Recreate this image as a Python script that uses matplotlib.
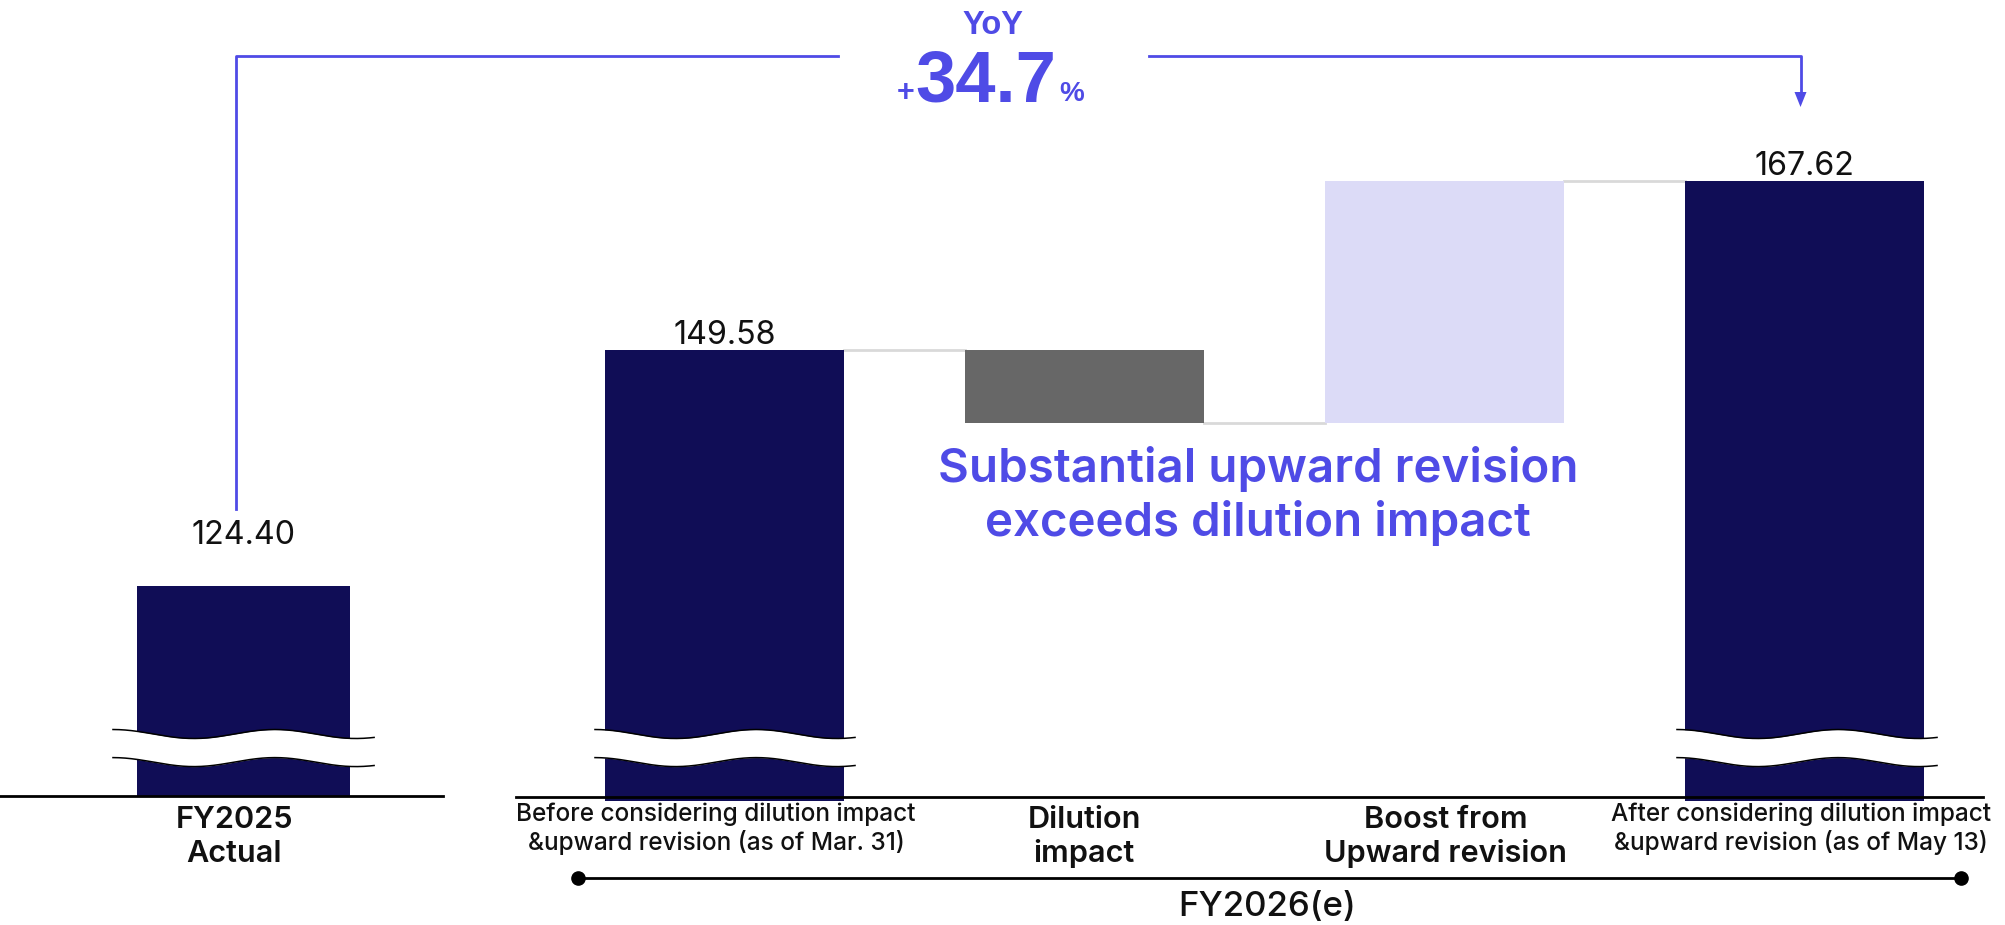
import matplotlib
matplotlib.use('Agg')
import matplotlib.pyplot as plt
import numpy as np
from matplotlib.transforms import Affine2D
from matplotlib.patches import Polygon

# ---------------- data ----------------
categories = ["FY2025\nActual",
              "Before considering dilution impact\n&upward revision (as of Mar. 31)",
              "Dilution\nimpact",
              "Boost from\nUpward revision",
              "After considering dilution impact\n&upward revision (as of May 13)"]
fy2025_actual = 124.40
fy2026_before = 149.58
dilution_impact = -7.80
upward_boost = 25.84
fy2026_after = 167.62
value_labels = ["124.40", "149.58", "167.62"]
yoy_title = "YoY"
yoy_value = "34.7"
group_label = "FY2026(e)"
annotation = "Substantial upward revision\nexceeds dilution impact"

# ---------------- style ----------------
NAVY = '#100D56'
GREY = '#676767'
LAV = '#DCDBF7'
BLUE = '#4F4BE6'
CONN = '#D9D9D9'
INK = '#111111'
FONT = ['Inter', 'DejaVu Sans']
NARROW = ['Liberation Sans Narrow', 'Liberation Sans', 'DejaVu Sans']
plt.rcParams['font.family'] = FONT

W, H, DPI = 2006, 925, 100
fig = plt.figure(figsize=(W / DPI, H / DPI), dpi=DPI)
ax = fig.add_axes([0, 0, 1, 1])
XMIN, XMAX = -1.0125, 4.5597
YMIN, YMAX = 88.2, 187.0
ax.set_xlim(XMIN, XMAX)
ax.set_ylim(YMIN, YMAX)
ax.axis('off')

P = Affine2D().scale(1, -1).translate(0, H)   # pixel coords, origin top-left
UNIT = W / (XMAX - XMIN)                        # pixels per x unit


def px(xd):
    return (xd - XMIN) * UNIT


base = 101.9          # broken-axis baseline value
x_pos = [-0.336, 1, 2, 3, 4]
w_first, w_rest = 0.592, 0.664
mid = fy2026_before + dilution_impact
drop = 0.45

# bars
ax.bar(x_pos[0], fy2025_actual - base, bottom=base, width=w_first, color=NAVY, zorder=2)
ax.bar(x_pos[1], fy2026_before - base + drop, bottom=base - drop, width=w_rest, color=NAVY, zorder=2)
ax.bar(x_pos[2], dilution_impact, bottom=fy2026_before, width=w_rest, color=GREY, zorder=2)
ax.bar(x_pos[3], upward_boost, bottom=mid, width=w_rest, color=LAV, zorder=2)
ax.bar(x_pos[4], fy2026_after - base + drop, bottom=base - drop, width=w_rest, color=NAVY, zorder=2)

# connectors
hw = w_rest / 2
ax.plot([x_pos[1] + hw, x_pos[2] - hw], [fy2026_before] * 2, color=CONN, lw=2, zorder=1)
ax.plot([x_pos[2] + hw, x_pos[3] - hw], [mid] * 2, color=CONN, lw=2, zorder=1)
ax.plot([x_pos[3] + hw, x_pos[4] - hw], [fy2026_after] * 2, color=CONN, lw=2, zorder=1)

# break marks
for xc, wd, ext_l, ext_r in [(x_pos[0], w_first, 24, 24),
                             (x_pos[1], w_rest, 10, 11),
                             (x_pos[4], w_rest, 8, 13)]:
    x0 = xc - wd / 2 - ext_l / UNIT
    x1 = xc + wd / 2 + ext_r / UNIT
    t = np.linspace(0, 1, 300)
    xs = x0 + (x1 - x0) * t
    wave = 0.48 * np.cos(2 * np.pi * t / 0.62)
    top = 108.6 + wave
    bot = 105.6 + wave
    ax.fill_between(xs, bot, top, color='white', zorder=3, lw=0)
    ax.plot(xs, top, color='black', lw=1.1, zorder=4)
    ax.plot(xs, bot, color='black', lw=1.1, zorder=4)

# baselines
fig.add_artist(plt.Line2D([0, 443], [796, 796], transform=P, color='black', lw=2))
fig.add_artist(plt.Line2D([516, 1983], [797, 797], transform=P, color='black', lw=2))

renderer = fig.canvas.get_renderer()


def fit_width(t, target):
    for _ in range(3):
        w = t.get_window_extent(renderer).width
        t.set_fontsize(t.get_fontsize() * target / w)
    return t.get_fontsize()


# value labels
vl0 = ax.text(x_pos[0], fy2025_actual, value_labels[0], ha='center', va='baseline',
              color=INK, fontsize=22,
              transform=ax.transData + Affine2D().translate(0, 42))
fs_val = fit_width(vl0, 104)
ax.text(x_pos[1], fy2026_before, value_labels[1], ha='center', va='baseline', color=INK,
        fontsize=fs_val, transform=ax.transData + Affine2D().translate(0, 6))
ax.text(x_pos[4], fy2026_after, value_labels[2], ha='center', va='baseline', color=INK,
        fontsize=fs_val, transform=ax.transData + Affine2D().translate(0, 6))

# category labels
t_boost = fig.text(1446, 837, categories[3], transform=P, ha='center', va='center',
                   fontsize=18, color=INK, fontweight='semibold', linespacing=1.25)
fs_cat = fit_width(t_boost, 243)
fig.text(234, 837, categories[0], transform=P, ha='center', va='center',
         fontsize=fs_cat, color=INK, fontweight='semibold', linespacing=1.25)
fig.text(1084, 837, categories[2], transform=P, ha='center', va='center',
         fontsize=fs_cat, color=INK, fontweight='semibold', linespacing=1.25)
t_before = fig.text(716, 829, categories[1], transform=P, ha='center', va='center',
                    fontsize=14, color=INK, fontweight='medium', linespacing=1.2)
fs_small = fit_width(t_before, 400)
fig.text(1801, 829, categories[4], transform=P, ha='center', va='center',
         fontsize=fs_small, color=INK, fontweight='medium', linespacing=1.2)

# FY2026 group bracket
fig.add_artist(plt.Line2D([578, 1961], [878, 878], transform=P, color='black', lw=2))
fig.add_artist(plt.Line2D([578, 1961], [878, 878], transform=P, color='black', lw=0,
                          marker='o', markersize=9.5))
t_grp = fig.text(1267, 907, group_label, transform=P, ha='center', va='center',
                 fontsize=20, color=INK, fontweight='medium')
fit_width(t_grp, 178)

# annotation
t_ann = fig.text(1258, 496, annotation, transform=P, ha='center', va='center',
                 fontsize=28, color=BLUE, fontweight='semibold', linespacing=1.2)
fit_width(t_ann, 640)

# YoY bracket
xl = px(x_pos[0]) - 8
xr = px(x_pos[4]) - 4
fig.add_artist(plt.Line2D([xl, xl, 838], [509, 56, 56], transform=P, color=BLUE, lw=2))
fig.add_artist(plt.Line2D([1149, xr, xr], [56, 56, 94], transform=P, color=BLUE, lw=2))
fig.add_artist(Polygon([[xr - 6, 92], [xr + 6, 92], [xr, 107]], closed=True,
                       transform=P, color=BLUE, lw=0))

t_yoy = fig.text(993, 26, yoy_title, transform=P, ha='center', va='center',
                 fontsize=24, color=BLUE, fontweight='bold', family=NARROW)
fit_width(t_yoy, 61)
t_num = fig.text(986, 101, yoy_value, transform=P, ha='center', va='baseline',
                 fontsize=48, color=BLUE, fontweight='bold', family=NARROW)
fit_width(t_num, 141)
fig.text(914, 101, '+', transform=P, ha='right', va='baseline',
         fontsize=22, color=BLUE, fontweight='bold', family=NARROW)
fig.text(1059, 101, '%', transform=P, ha='left', va='baseline',
         fontsize=20, color=BLUE, fontweight='bold', family=NARROW)

fig.savefig('out.png', dpi=DPI, facecolor='white')
